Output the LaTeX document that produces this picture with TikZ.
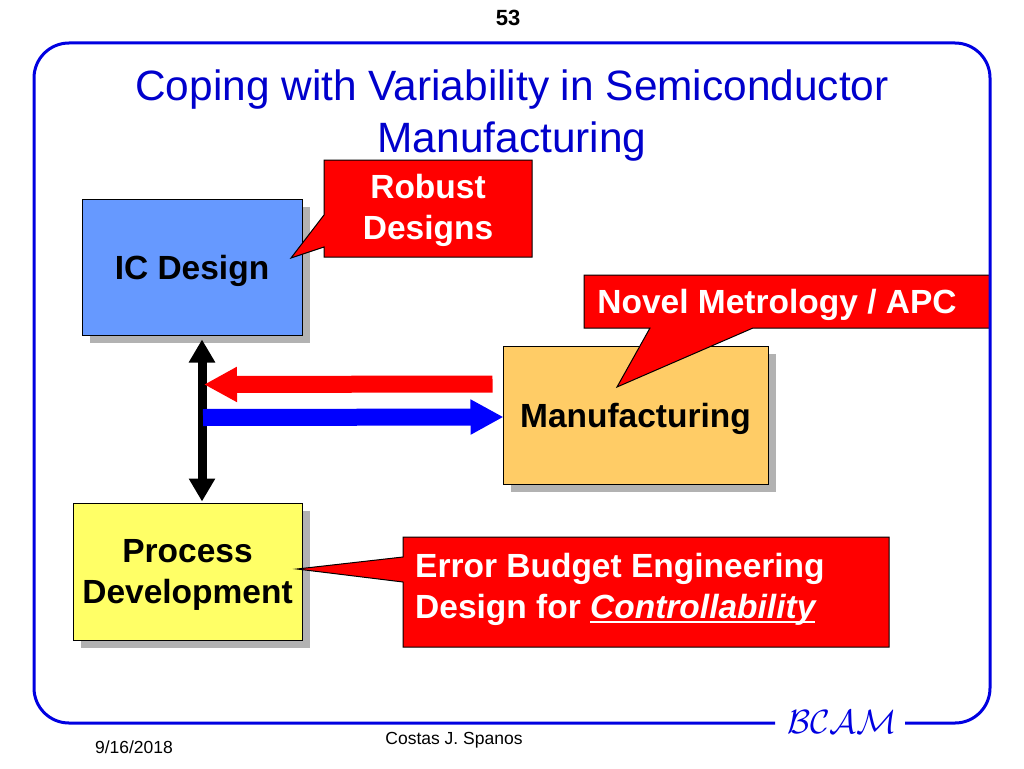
\documentclass[tikz,border=0pt]{standalone}
\usepackage{fontspec}
\usepackage{graphicx}
\setmainfont{Liberation Sans}
\usetikzlibrary{arrows.meta,shadows,calc}
\definecolor{framecol}{RGB}{0,0,225}
\definecolor{titlecol}{RGB}{0,0,204}
\definecolor{icfill}{RGB}{102,153,255}
\definecolor{mffill}{RGB}{255,204,102}
\definecolor{pdfill}{RGB}{255,255,102}
\definecolor{shadowgray}{RGB}{178,178,178}
\definecolor{calloutred}{RGB}{255,0,0}
\definecolor{arrowblue}{RGB}{0,0,255}
\newcommand\ulbox[1]{\setbox0\hbox{#1}\rlap{\rule[-4.5pt]{\wd0}{1.8pt}}\box0}
\begin{document}
\begin{tikzpicture}[x=1pt,y=-1pt,
  boxtxt/.style={font=\fontsize{33.5}{41}\selectfont\bfseries, align=center},
  blockbox/.style={boxtxt, draw=black, line width=1pt, inner sep=0pt, text depth=0pt,
    general shadow={fill=shadowgray, shadow xshift=8pt, shadow yshift=-8pt}},
  calloutshape/.style={fill=calloutred, draw=black, line width=1pt, line join=miter},
  callouttxt/.style={boxtxt, text=white, inner sep=0pt},
  fattip/.style={-{Triangle[width=33pt,length=33pt]}, line width=17pt},
  footertxt/.style={font=\fontsize{17.5}{18}\selectfont, inner sep=0pt}
]
\fill[white] (0,0) rectangle (1024,768);
\useasboundingbox (0,0) rectangle (1024,768);

% page number and title
\node[font=\fontsize{22}{22}\selectfont\bfseries, inner sep=0pt] (PG) at (508,18) {53};
\node[anchor=base, text=titlecol, font=\fontsize{42.4}{51}\selectfont, inner sep=0pt] (T1) at (512,100.5) {Coping with Variability in Semiconductor};
\node[anchor=base, text=titlecol, font=\fontsize{42.4}{51}\selectfont, inner sep=0pt] (T2) at (512,152) {Manufacturing};

% blocks
\node[blockbox, fill=icfill, minimum width=220pt, minimum height=136pt] (IC) at (192,267) {IC Design};
\node[blockbox, fill=mffill, minimum width=265pt, minimum height=138pt] (MF) at (635.5,415) {Manufacturing};
\node[blockbox, fill=pdfill, minimum width=229pt, minimum height=137pt] (PD) at (187.5,571.5) {Process\\Development};

% arrows
\draw[{Triangle[width=25pt,length=23pt]}-{Triangle[width=25pt,length=23pt]}, line width=9pt, draw=black]
  ($(IC.south)+(10,4)$) -- ($(PD.north)+(14.5,-1)$);
\draw[fattip, draw=calloutred] ($(MF.west)+(-10,-31)$) -- ($(IC.south)+(12,49)$);
\draw[fattip, draw=arrowblue] ($(IC.south)+(11,82)$) -- ($(MF.west)+(1,2)$);

% callouts
\filldraw[calloutshape] (324,160) -- (532,160) -- (532,257) -- (324,257) -- (324,247) -- (291,258) -- (324,215) -- cycle;
\node[callouttxt] (RD) at (428,210.5) {Robust\\Designs};

\filldraw[calloutshape] (584,275) -- (990,275) -- (990,328) -- (753,328) -- (617,387) -- (650,328) -- (584,328) -- cycle;
\node[callouttxt] (NM) at (777,305) {Novel Metrology / APC};

\filldraw[calloutshape] (403,537) -- (889,537) -- (889,647) -- (403,647) -- (403,582) -- (297,569) -- (403,557) -- cycle;
\node[callouttxt, align=left, anchor=west] (EB) at (415,589) {Error Budget Engineering\\Design for \ulbox{\itshape Controllability}};

% frame
\draw[framecol, line width=3pt, rounded corners=35pt]
  (775,723) -- (34,723) -- (34,43) -- (990,43) -- (990,723) -- (905,723);
\node[text=framecol, inner sep=0pt] (LG) at (842,722) {\scalebox{1.35}{\Huge$\mathcal{BCAM}$}};

% footer
\node[footertxt] (DT) at (134,747) {9/16/2018};
\node[footertxt] (AU) at (454,740) {Costas J. Spanos};
\end{tikzpicture}
\end{document}
